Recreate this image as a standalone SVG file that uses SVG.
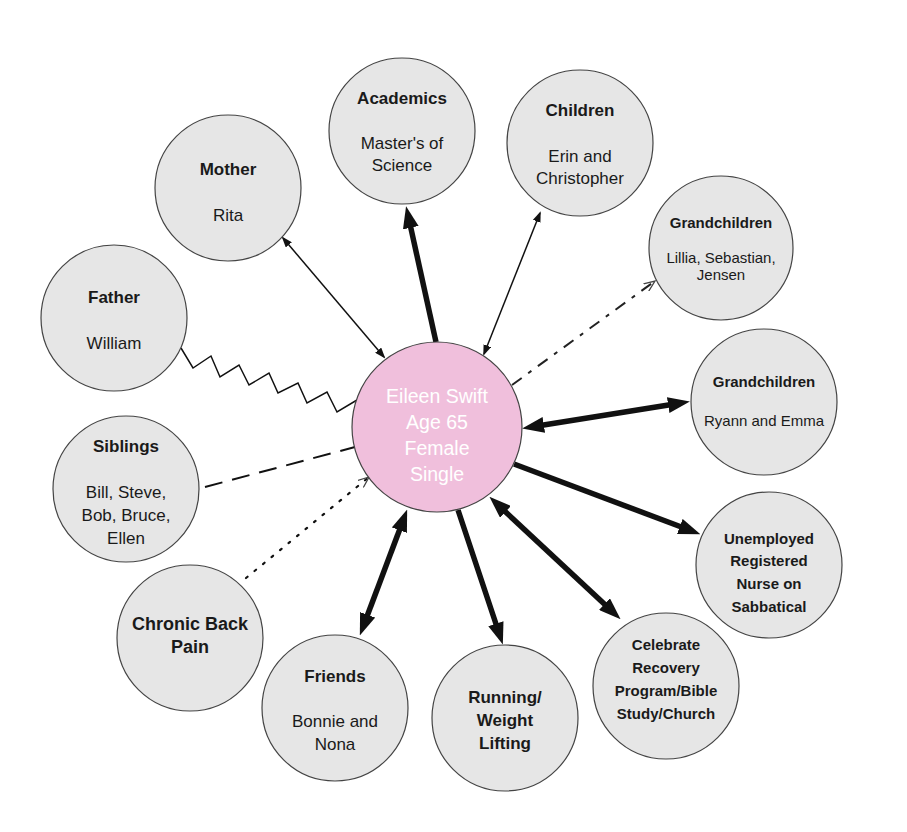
<svg xmlns="http://www.w3.org/2000/svg" width="907" height="832" viewBox="0 0 907 832">
<style>
.n{fill:#e6e6e6;stroke:#444;stroke-width:1.2}
.c{fill:#f0bfdc;stroke:#444;stroke-width:1.2}
text{font-family:"Liberation Sans",Arial,Helvetica,sans-serif;fill:#1a1a1a;text-anchor:middle}
.b{font-weight:bold}
.w{fill:#ffffff}
.thick{stroke:#111;stroke-width:5.5;fill:none}
.thin{stroke:#111;stroke-width:1.5;fill:none}
</style>
<defs>
<marker id="tk" viewBox="0 0 22 16" markerWidth="22" markerHeight="16" refX="13" refY="8" orient="auto-start-reverse" markerUnits="userSpaceOnUse"><path d="M0,0 L22,8 L0,16 z" fill="#111"/></marker>
<marker id="tn" viewBox="0 0 11 8" markerWidth="11" markerHeight="8" refX="9" refY="4" orient="auto-start-reverse" markerUnits="userSpaceOnUse"><path d="M0,0 L11,4 L0,8 z" fill="#111"/></marker>
<marker id="op" viewBox="0 0 12 10" markerWidth="12" markerHeight="10" refX="11" refY="5" orient="auto" markerUnits="userSpaceOnUse"><path d="M0,0.5 L11,5 L0,9.5" fill="none" stroke="#444" stroke-width="1.3"/></marker>
</defs>
<g id="connectors">
<line class="thin" x1="283" y1="238" x2="384" y2="357" marker-start="url(#tn)" marker-end="url(#tn)"/>
<line class="thick" x1="436" y1="342" x2="408" y2="215" marker-end="url(#tk)"/>
<line class="thin" x1="540" y1="213" x2="484" y2="354" marker-start="url(#tn)" marker-end="url(#tn)"/>
<line stroke="#222" stroke-width="2" stroke-dasharray="12,8,4,8" x1="512" y1="385" x2="655" y2="281" marker-end="url(#op)"/>
<polyline class="thin" stroke-width="2" points="181,348 193,368 211,356 220,377 239,365 249,385 269,373 278,393 298,383 307,403 327,392 337,412 357,400"/>
<line stroke="#111" stroke-width="2" stroke-dasharray="18,10" x1="205" y1="487" x2="355" y2="447"/>
<line stroke="#111" stroke-width="2.2" stroke-dasharray="2,9" stroke-linecap="round" x1="246" y1="578" x2="369" y2="477" marker-end="url(#op)"/>
<line class="thick" x1="531" y1="427" x2="681" y2="403" marker-start="url(#tk)" marker-end="url(#tk)"/>
<line class="thick" x1="514" y1="464" x2="692" y2="531" marker-end="url(#tk)"/>
<line class="thick" x1="496" y1="503" x2="614" y2="613" marker-start="url(#tk)" marker-end="url(#tk)"/>
<line class="thick" x1="458" y1="510" x2="500" y2="636" marker-end="url(#tk)"/>
<line class="thick" x1="404" y1="518" x2="363" y2="627" marker-start="url(#tk)" marker-end="url(#tk)"/>
</g>
<g id="academics"><circle class="n" cx="402" cy="131" r="73"/><text class="b" x="402" y="104" font-size="17">Academics</text><text x="402" y="149" font-size="17">Master's of</text><text x="402" y="171" font-size="17">Science</text></g>
<g id="children"><circle class="n" cx="580" cy="143" r="73"/><text class="b" x="580" y="116" font-size="17">Children</text><text x="580" y="162" font-size="17">Erin and</text><text x="580" y="184" font-size="17">Christopher</text></g>
<g id="mother"><circle class="n" cx="228" cy="188" r="73"/><text class="b" x="228" y="175" font-size="17">Mother</text><text x="228" y="221" font-size="17">Rita</text></g>
<g id="father"><circle class="n" cx="114" cy="318" r="73"/><text class="b" x="114" y="303" font-size="17">Father</text><text x="114" y="349" font-size="17">William</text></g>
<g id="grandchildren1"><circle class="n" cx="721" cy="248" r="72"/><text class="b" x="721" y="228" font-size="15">Grandchildren</text><text x="721" y="263" font-size="15">Lillia, Sebastian,</text><text x="721" y="280" font-size="15">Jensen</text></g>
<g id="grandchildren2"><circle class="n" cx="764" cy="402" r="73"/><text class="b" x="764" y="387" font-size="15">Grandchildren</text><text x="764" y="426" font-size="15">Ryann and Emma</text></g>
<g id="siblings"><circle class="n" cx="126" cy="489" r="73"/><text class="b" x="126" y="452" font-size="17">Siblings</text><text x="126" y="498" font-size="17">Bill, Steve,</text><text x="126" y="521" font-size="17">Bob, Bruce,</text><text x="126" y="544" font-size="17">Ellen</text></g>
<g id="unemployed"><circle class="n" cx="769" cy="565" r="73"/><text class="b" x="769" y="544" font-size="15">Unemployed</text><text class="b" x="769" y="566" font-size="15">Registered</text><text class="b" x="769" y="589" font-size="15">Nurse on</text><text class="b" x="769" y="612" font-size="15">Sabbatical</text></g>
<g id="chronic"><circle class="n" cx="190" cy="638" r="73"/><text class="b" x="190" y="630" font-size="18">Chronic Back</text><text class="b" x="190" y="653" font-size="18">Pain</text></g>
<g id="friends"><circle class="n" cx="335" cy="708" r="73"/><text class="b" x="335" y="682" font-size="17">Friends</text><text x="335" y="727" font-size="17">Bonnie and</text><text x="335" y="750" font-size="17">Nona</text></g>
<g id="running"><circle class="n" cx="505" cy="718" r="73"/><text class="b" x="505" y="703" font-size="17">Running/</text><text class="b" x="505" y="726" font-size="17">Weight</text><text class="b" x="505" y="749" font-size="17">Lifting</text></g>
<g id="celebrate"><circle class="n" cx="666" cy="686" r="73"/><text class="b" x="666" y="650" font-size="15">Celebrate</text><text class="b" x="666" y="673" font-size="15">Recovery</text><text class="b" x="666" y="696" font-size="15">Program/Bible</text><text class="b" x="666" y="719" font-size="15">Study/Church</text></g>
<g id="eileen"><circle class="c" cx="437" cy="427" r="85"/><text class="w" x="437" y="403" font-size="19.5">Eileen Swift</text><text class="w" x="437" y="429" font-size="19.5">Age 65</text><text class="w" x="437" y="455" font-size="19.5">Female</text><text class="w" x="437" y="481" font-size="19.5">Single</text></g>
</svg>
